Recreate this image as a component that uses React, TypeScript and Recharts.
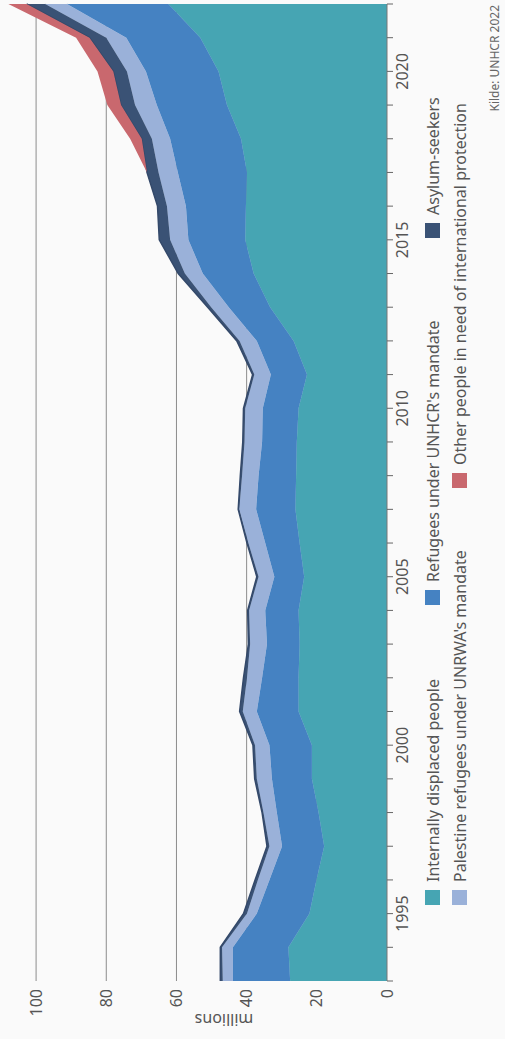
import React from 'react';
import { AreaChart, Area, XAxis, YAxis, CartesianGrid } from 'recharts';

const years = [1993, 1994, 1995, 1996, 1997, 1998, 1999, 2000, 2001, 2002, 2003, 2004, 2005, 2006, 2007, 2008, 2009, 2010, 2011, 2012, 2013, 2014, 2015, 2016, 2017, 2018, 2019, 2020, 2021, 2022];
const idp = [27.6, 28.1, 22.1, 20.1, 17.9, 19.5, 21.4, 21.4, 25.2, 25.2, 24.9, 25.2, 23.6, 24.9, 26.1, 25.9, 25.7, 25.2, 22.8, 26.6, 33.3, 38.0, 40.4, 40.2, 39.9, 41.6, 45.6, 48.0, 53.2, 62.3];
const unhcr = [16.3, 15.8, 15.0, 13.4, 12.0, 11.9, 11.4, 12.1, 11.9, 10.4, 9.3, 9.5, 8.5, 9.8, 11.2, 10.7, 9.9, 10.2, 10.3, 10.5, 11.8, 14.5, 16.2, 17.1, 19.7, 20.2, 20.0, 20.7, 21.1, 28.9];
const unrwa = [2.9, 3.1, 2.8, 3.3, 3.6, 3.8, 4.3, 4.1, 4.0, 4.3, 4.8, 4.6, 4.5, 4.8, 4.8, 4.7, 5.0, 5.0, 4.7, 4.9, 5.0, 5.1, 5.2, 5.4, 5.5, 5.2, 6.2, 5.4, 5.7, 6.2];
const asylum = [0.7, 0.5, 1.0, 0.8, 0.7, 0.4, 0.6, 0.6, 0.9, 1.0, 0.5, 0.4, 0.5, 0.4, 0.3, 0.5, 0.5, 0.5, 0.5, 0.8, 1.0, 1.9, 3.1, 2.7, 3.3, 2.9, 4.0, 3.9, 4.8, 5.3];
const other = [0, 0, 0, 0, 0, 0, 0, 0, 0, 0, 0, 0, 0, 0, 0, 0, 0, 0, 0, 0, 0, 0, 0, 0, 0, 3.3, 3.9, 4.5, 3.8, 5.2];

const valueTicks = [0, 20, 40, 60, 80, 100];
const yearLabelStep = 5;

const seriesKeys = ['idp', 'unhcr', 'unrwa', 'asylum', 'other'];
const seriesNames = [
  'Internally displaced people',
  "Refugees under UNHCR's mandate",
  "Palestine refugees under UNRWA's mandate",
  'Asylum-seekers',
  'Other people in need of international protection',
];
const seriesColors = ['#46a5b3', '#4582c2', '#9ab1d9', '#3a5275', '#c9686e'];
// legend rows: [series index, left offset within legend block]
const legendRows = [
  [[0, 0], [1, 300], [3, 667]],
  [[2, 0], [4, 417]],
];
const axisTitle = 'millions';
const sourceText = 'Kilde: UNHCR 2022';

const data = years.map((y, i) => ({
  year: y,
  idp: idp[i],
  unhcr: unhcr[i],
  unrwa: unrwa[i],
  asylum: asylum[i],
  other: other[i],
}));

const FONT = '"Noto Sans", "Open Sans", sans-serif';
const W = 1039;
const H = 505;

const YTitle = (props: any) => {
  const vb = props.viewBox || { x: 0, y: 0, width: 58, height: 386 };
  const cx = vb.x + 19;
  const cy = vb.y + vb.height / 2 + 30;
  return (
    <text
      x={cx}
      y={cy}
      transform={`rotate(-90 ${cx} ${cy})`}
      textAnchor="middle"
      dominantBaseline="central"
      fontSize={16}
      fill="#555"
      fontFamily={FONT}
    >
      {axisTitle}
    </text>
  );
};

export default function App() {
  return (
    <div style={{ position: 'fixed', left: 0, top: 0, width: 505, height: 1039, background: '#fafafa', overflow: 'hidden' }}>
      <div
        style={{
          position: 'absolute',
          left: 0,
          top: W,
          width: W,
          height: H,
          transformOrigin: '0 0',
          transform: 'rotate(-90deg)',
          fontFamily: FONT,
        }}
      >
        <AreaChart width={W} height={H} data={data} margin={{ top: 1, right: 4, bottom: 88, left: 0 }}>
          <CartesianGrid
            horizontal
            vertical={false}
            horizontalValues={valueTicks.filter((v) => v > 0)}
            stroke="#8c8c8c"
            strokeWidth={1}
          />
          <XAxis
            dataKey="year"
            type="number"
            domain={[years[0], years[years.length - 1]]}
            ticks={years}
            interval={0}
            tickFormatter={(v: number) => (v % yearLabelStep === 0 ? String(v) : '')}
            height={30}
            tickSize={6}
            tickMargin={4}
            axisLine={{ stroke: '#777' }}
            tickLine={{ stroke: '#666' }}
            tick={{ fontSize: 16, fill: '#555', fontFamily: FONT }}
          />
          <YAxis
            type="number"
            domain={[0, 110]}
            ticks={valueTicks}
            width={58}
            axisLine={false}
            tickLine={false}
            tick={{ fontSize: 16, fill: '#555', fontFamily: FONT }}
            label={<YTitle />}
          />
          {seriesKeys.map((k, i) => (
            <Area
              key={k}
              type="linear"
              dataKey={k}
              name={seriesNames[i]}
              stackId="1"
              fill={seriesColors[i]}
              fillOpacity={1}
              stroke={k === 'asylum' ? '#34496a' : k === 'other' ? 'none' : seriesColors[i]}
              strokeWidth={k === 'asylum' ? 1.5 : 0.5}
              isAnimationActive={false}
              dot={false}
              activeDot={false}
            />
          ))}
        </AreaChart>
        <div style={{ position: 'absolute', left: 134, top: 419, width: 808 }}>
          {legendRows.map((row, ri) => (
            <div key={ri} style={{ position: 'relative', height: 27 }}>
              {row.map(([si, off]) => (
                <div
                  key={si}
                  style={{ position: 'absolute', left: off, top: 0, height: 27, display: 'flex', alignItems: 'center' }}
                >
                  <div style={{ width: 15, height: 15, background: seriesColors[si], marginRight: 8 }} />
                  <span style={{ fontSize: 16, color: '#555', whiteSpace: 'nowrap' }}>{seriesNames[si]}</span>
                </div>
              ))}
            </div>
          ))}
        </div>
        <div style={{ position: 'absolute', right: 5, top: 487, fontSize: 12, color: '#666', whiteSpace: 'nowrap', lineHeight: '16px' }}>
          {sourceText}
        </div>
      </div>
    </div>
  );
}
